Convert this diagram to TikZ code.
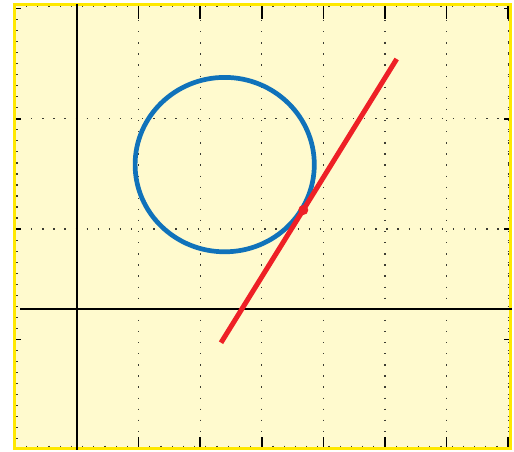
\documentclass[tikz,border=0pt]{standalone}
\begin{document}
\begin{tikzpicture}[x=1pt,y=-1pt]
\definecolor{bgyellow}{RGB}{255,250,206}
\definecolor{frameyellow}{RGB}{255,232,0}
\definecolor{circblue}{RGB}{16,114,186}
\definecolor{linered}{RGB}{238,32,38}
\definecolor{dotgray}{RGB}{60,60,50}
\tikzset{
  gridline/.style={dotgray,line width=1.3pt,dash pattern=on 1.3pt off 9.8pt},
  axisline/.style={black,line width=2.3pt},
  majortick/.style={black,line width=1.6pt},
  minortick/.style={dotgray,line width=1.2pt},
  curve/.style={circblue,line width=4.7pt},
  tangent/.style={linered,line width=5pt},
}
\useasboundingbox (0,0) rectangle (514,452);
\fill[white] (0,0) rectangle (514,452);
% background and frame
\fill[bgyellow] (14.5,4.5) rectangle (510.5,448.5);
% grid
\foreach \k in {1,2,3,4,5,6,7} {
  \draw[gridline,dash phase=-3pt] ({77+61.6*\k},6) -- ({77+61.6*\k},447);
}
\foreach \y in {118.8,229.1} {
  \draw[gridline,dash phase=-4pt] (16,\y) -- (509,\y);
}
% minor ticks
\foreach \k in {1,...,43} {
  \draw[minortick] ({15.4+11.2*\k},6) -- ({15.4+11.2*\k},7.5);
  \draw[minortick] ({15.4+11.2*\k},445.5) -- ({15.4+11.2*\k},447);
}
\foreach \k in {1,...,39} {
  \draw[minortick] (16,{8.5+11.03*\k}) -- (17.5,{8.5+11.03*\k});
  \draw[minortick] (507.5,{8.5+11.03*\k}) -- (509,{8.5+11.03*\k});
}
% major ticks
\foreach \k in {1,2,3,4,5,6,7} {
  \draw[majortick] ({77+61.6*\k},6) -- ({77+61.6*\k},19);
  \draw[majortick] ({77+61.6*\k},437) -- ({77+61.6*\k},447);
}
\foreach \k in {0,1,2,3} {
  \draw[majortick] (16,{8.5+110.3*\k}) -- (21,{8.5+110.3*\k});
  \draw[majortick] (504,{8.5+110.3*\k}) -- (509,{8.5+110.3*\k});
}
% frame
\draw[frameyellow,line width=3.8pt] (14.5,4.5) rectangle (510.5,448.5);
% axes
\draw[axisline] (77,4) -- (77,450);
\draw[axisline] (20,309) -- (512,309);
% circle
\draw[curve] (224.7,164.6) ellipse [x radius=89.6, y radius=87.2];
% tangent line and point
\coordinate (A) at (221,342.7);
\coordinate (B) at (396.7,59);
\coordinate (P) at (303.3,210);
\draw[tangent] (A) -- (B);
\fill[linered] (P) circle (5);
\end{tikzpicture}
\end{document}
